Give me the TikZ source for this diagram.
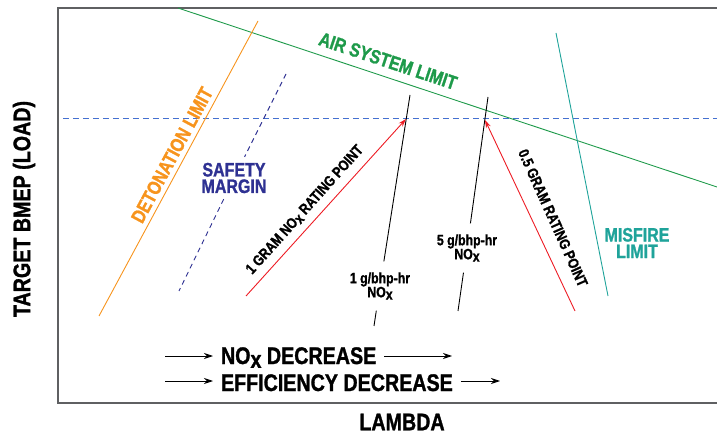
\documentclass[tikz,border=0pt]{standalone}
\usepackage{fontspec}
\newfontfamily\narrowfont[FakeStretch=0.82, BoldFeatures={FakeBold=1.2}]{Liberation Sans}
\definecolor{D}{HTML}{F7941D}
\definecolor{A}{HTML}{1E9A4A}
\definecolor{L}{HTML}{4470D0}
\definecolor{S}{HTML}{2E3192}
\definecolor{R}{HTML}{ED1C24}
\definecolor{M}{HTML}{1FA39A}
\definecolor{darkgrey}{HTML}{5F6062}
\usetikzlibrary{arrows.meta}
\newcommand*{\NOx}{NO\raisebox{-0.3ex}{x}}
\tikzstyle{base}=[inner sep=0pt, outer sep=0pt, x=1pt, y=-1pt, line width=0.9pt]
\tikzstyle{title}=[font=\fontsize{24}{26}\selectfont\bfseries]
\tikzstyle{limit}=[font=\fontsize{19.5}{16.5}\selectfont\bfseries, align=center]
\tikzstyle{note}=[font=\fontsize{15}{14}\selectfont\bfseries, align=center]
\tikzstyle{rate}=[R, -{Stealth[length=8pt,width=5pt]}]
\tikzstyle{trend}=[black, -{Stealth[length=9pt,width=6pt]}]

\begin{document}
\begin{tikzpicture}[base]
    \narrowfont
        \path [use as bounding box] (0,0) rectangle (717,435);
        \draw [darkgrey, line width=1.8pt] (717,8) -- (58,8) -- (58,403) -- (717,403);
        \node [title, rotate=90] (target) at (24,209) {TARGET BMEP (LOAD)};
        \node [title] (lambda) at (402,422) {LAMBDA};
        \draw [L, dash pattern=on 6pt off 4pt] (63,118) -- (717,118);

        \coordinate (a1) at (178,8);
        \coordinate (a2) at (717,187);
        \draw [A] (a1) -- (a2);
        \node [limit, A, rotate=-18.4] (air) at (388,61) {AIR SYSTEM LIMIT};

        \coordinate (d1) at (99,316);
        \coordinate (d2) at (258,21);
        \draw [D] (d1) -- (d2);
        \node [limit, D, rotate=61.7] (detonation) at (172,155) {DETONATION LIMIT};

        \coordinate (s1) at (286,74);
        \coordinate (s2) at (179,291);
        \node [limit, S, inner ysep=6pt, inner xsep=3pt] (safety) at (234,178) {SAFETY\\MARGIN};
        \draw [S, dash pattern=on 5pt off 4pt] (s1) -- (safety);
        \draw [S, dash pattern=on 5pt off 4pt] (safety) -- (s2);

        \coordinate (g1) at (410,95);
        \coordinate (g2) at (374,326);
        \node [note, inner ysep=11pt] (one) at (380,286) {1 g/bhp-hr\\\NOx};
        \draw (g1) -- (one);
        \draw (one) -- (g2);

        \coordinate (h1) at (488,97);
        \coordinate (h2) at (458,311);
        \node [note, inner ysep=11pt] (five) at (467,248) {5 g/bhp-hr\\\NOx};
        \draw (h1) -- (five);
        \draw (five) -- (h2);

        \coordinate (r1) at (246,296);
        \coordinate (r2) at (406,119);
        \draw [rate] (r1) -- (r2);
        \node [note, rotate=48.1] (onegram) at (305,210) {1 GRAM \NOx\ RATING POINT};

        \coordinate (q1) at (575,311);
        \coordinate (q2) at (485,120);
        \draw [rate] (q1) -- (q2);
        \node [note, rotate=-65.8] (halfgram) at (553,218) {0.5 GRAM RATING POINT};

        \coordinate (m1) at (556,33);
        \coordinate (m2) at (608,296);
        \draw [M] (m1) -- (m2);
        \node [limit, M] (misfire) at (637,243) {MISFIRE\\LIMIT};

        \coordinate (n1) at (165,356);
        \coordinate (n2) at (452,356);
        \node [title, anchor=base west, inner xsep=8pt] (nox) at (213,364) {\NOx\ DECREASE};
        \draw [trend] (n1) -- (n1 -| nox.west);
        \draw [trend] (nox.east |- n1) -- (n2);

        \coordinate (e1) at (165,381);
        \coordinate (e2) at (500,381);
        \node [title, anchor=base west, inner xsep=8pt] (efficiency) at (213,391) {EFFICIENCY DECREASE};
        \draw [trend] (e1) -- (e1 -| efficiency.west);
        \draw [trend] (efficiency.east |- e1) -- (e2);
\end{tikzpicture}
\end{document}
